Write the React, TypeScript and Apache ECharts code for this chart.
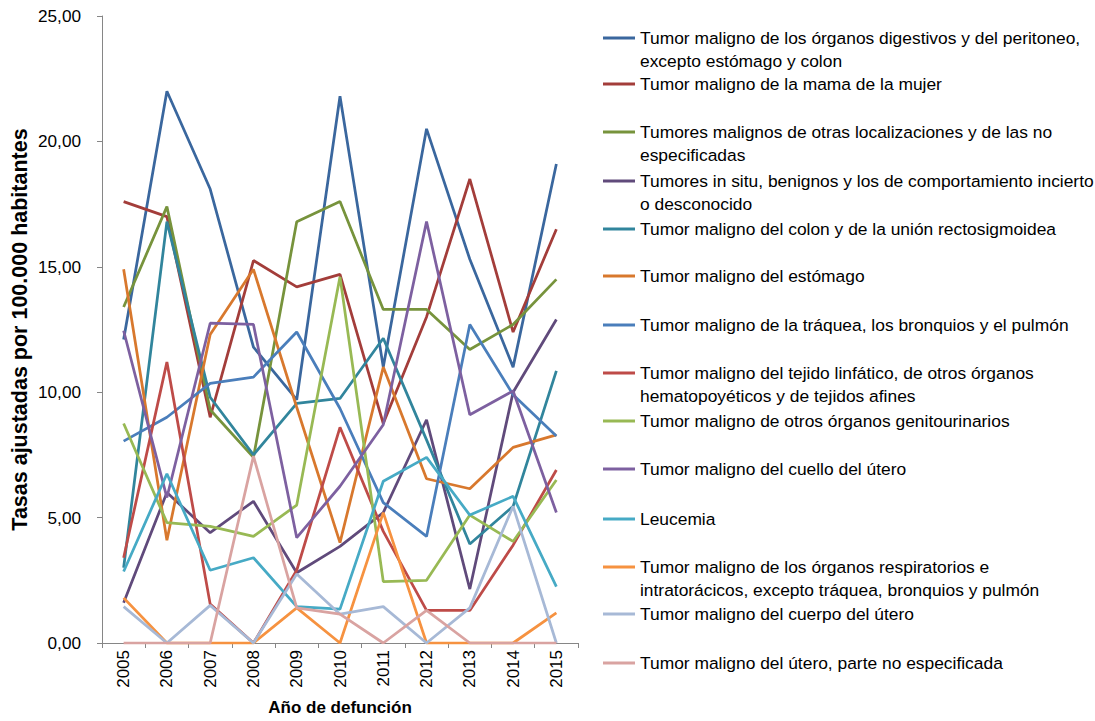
import React, { useEffect, useRef } from "react";
import * as echarts from "echarts";

const years = ["2005", "2006", "2007", "2008", "2009", "2010", "2011", "2012", "2013", "2014", "2015"];

const seriesNames = [
  "Tumor maligno de los órganos digestivos y del peritoneo, excepto estómago y colon",
  "Tumor maligno de la mama de la mujer",
  "Tumores malignos de otras localizaciones y de las no especificadas",
  "Tumores in situ, benignos y los de comportamiento incierto o desconocido",
  "Tumor maligno del colon y de la unión rectosigmoidea",
  "Tumor maligno del estómago",
  "Tumor maligno de la tráquea, los bronquios y el pulmón",
  "Tumor maligno del tejido linfático, de otros órganos hematopoyéticos y de tejidos afines",
  "Tumor maligno de otros órganos genitourinarios",
  "Tumor maligno del cuello del útero",
  "Leucemia",
  "Tumor maligno de los órganos respiratorios e intratorácicos, excepto tráquea, bronquios y pulmón",
  "Tumor maligno del cuerpo del útero",
  "Tumor maligno del útero, parte no especificada",
];

const legendLabels = [
  "Tumor maligno de los órganos digestivos y del peritoneo,\nexcepto estómago y colon",
  "Tumor maligno de la mama de la mujer",
  "Tumores malignos de otras localizaciones y de las no\nespecificadas",
  "Tumores in situ, benignos y los de comportamiento incierto\no desconocido",
  "Tumor maligno del colon y de la unión rectosigmoidea",
  "Tumor maligno del estómago",
  "Tumor maligno de la tráquea, los bronquios y el pulmón",
  "Tumor maligno del tejido linfático, de otros órganos\nhematopoyéticos y de tejidos afines",
  "Tumor maligno de otros órganos genitourinarios",
  "Tumor maligno del cuello del útero",
  "Leucemia",
  "Tumor maligno de los órganos respiratorios e\nintratorácicos, excepto tráquea, bronquios y pulmón",
  "Tumor maligno del cuerpo del útero",
  "Tumor maligno del útero, parte no especificada",
];

const digestivos = [12.1, 22.0, 18.1, 11.8, 9.7, 21.8, 11.0, 20.5, 15.3, 11.0, 19.1];
const mama = [17.6, 17.0, 9.0, 15.25, 14.2, 14.7, 8.75, 13.0, 18.5, 12.4, 16.5];
const otras = [13.4, 17.4, 9.3, 7.4, 16.8, 17.6, 13.3, 13.3, 11.7, 12.7, 14.5];
const inSitu = [1.6, 6.0, 4.4, 5.65, 2.8, 3.85, 5.2, 8.9, 2.15, 10.0, 12.9];
const colon = [3.0, 16.8, 9.8, 7.5, 9.55, 9.75, 12.15, 8.1, 3.95, 5.45, 10.85];
const estomago = [14.9, 4.1, 12.3, 14.9, 9.4, 4.0, 11.0, 6.55, 6.15, 7.8, 8.3];
const traquea = [8.05, 9.0, 10.35, 10.6, 12.4, 9.35, 5.6, 4.25, 12.7, 9.9, 8.25];
const linfatico = [3.4, 11.2, 1.55, 0, 2.9, 8.6, 4.45, 1.3, 1.3, 3.9, 6.9];
const genitourinarios = [8.75, 4.8, 4.65, 4.25, 5.5, 14.6, 2.45, 2.5, 5.1, 4.05, 6.5];
const cuelloUtero = [12.45, 5.8, 12.75, 12.7, 4.2, 6.25, 8.7, 16.8, 9.1, 10.05, 5.2];
const leucemia = [2.85, 6.75, 2.9, 3.4, 1.45, 1.35, 6.45, 7.4, 5.1, 5.85, 2.25];
const respiratorios = [1.8, 0, 0, 0, 1.4, 0, 5.2, 0, 0, 0, 1.2];
const cuerpoUtero = [1.45, 0, 1.5, 0, 2.75, 1.15, 1.45, 0, 1.4, 5.45, 0];
const uteroNoEsp = [0, 0, 0, 7.45, 1.4, 1.15, 0, 1.3, 0, 0, 0];

const seriesValues = [
  digestivos, mama, otras, inSitu, colon, estomago, traquea,
  linfatico, genitourinarios, cuelloUtero, leucemia, respiratorios, cuerpoUtero, uteroNoEsp,
];

const colors = [
  "#3A679E", "#A33D3A", "#77933C", "#604A7B", "#31859C", "#D8782D", "#4A7EBB",
  "#BE4B48", "#98B954", "#7D60A0", "#46AAC5", "#F69240", "#A7B9D6", "#D9A3A1",
];

const legendIconY = [38, 84, 132, 181, 229, 276, 325, 373, 421, 469, 519, 567, 614, 663];

const yTicks = { min: 0, max: 25, interval: 5 };

const FONT = "'Liberation Sans', Arial, sans-serif";
const LEGEND_FS = 17.4;
const LH = 23;

// icon for two-line entries: a bar centred on the first text line, box padded to two lines
const TWO_LINE_ICON = "path://M0,10H32V13H0Z M0,0H32 M0,46H32";

export default function App() {
  const ref = useRef<HTMLDivElement>(null);
  useEffect(() => {
    if (!ref.current) return;
    const chart = echarts.init(ref.current, null, { renderer: "svg" });
    const legends = seriesNames.map((name, i) => {
      const twoLine = legendLabels[i].indexOf("\n") >= 0;
      return {
        data: [name],
        left: 603,
        top: legendIconY[i] - LH / 2,
        orient: "vertical",
        padding: 0,
        itemWidth: 32,
        itemHeight: twoLine ? 2 * LH : 3,
        itemGap: 0,
        icon: twoLine ? TWO_LINE_ICON : "rect",
        selectedMode: false,
        formatter: () => legendLabels[i],
        textStyle: {
          fontFamily: FONT,
          fontSize: LEGEND_FS,
          lineHeight: LH,
          color: "#000",
        },
      };
    });
    chart.setOption({
      animation: false,
      textStyle: { fontFamily: FONT },
      grid: { left: 102, right: 517, top: 16, bottom: 76, containLabel: false },
      legend: legends,
      xAxis: {
        type: "category",
        data: years,
        boundaryGap: true,
        name: "Año de defunción",
        nameLocation: "middle",
        nameGap: 56,
        nameTextStyle: { fontFamily: FONT, fontSize: 17, fontWeight: "bold", color: "#000" },
        axisLine: { lineStyle: { color: "#868686", width: 1 } },
        axisTick: { show: true, length: 5, lineStyle: { color: "#868686" } },
        axisLabel: { rotate: 90, margin: 7, fontFamily: FONT, fontSize: 17, color: "#000" },
        splitLine: { show: false },
      },
      yAxis: {
        type: "value",
        min: yTicks.min,
        max: yTicks.max,
        interval: yTicks.interval,
        name: "Tasas ajustadas por 100.000 habitantes",
        nameLocation: "middle",
        nameRotate: 90,
        nameGap: 71,
        nameTextStyle: { fontFamily: FONT, fontSize: 21.5, fontWeight: "bold", color: "#000" },
        axisLine: { show: true, lineStyle: { color: "#868686", width: 1 } },
        axisTick: { show: true, length: 5, lineStyle: { color: "#868686" } },
        axisLabel: {
          margin: 21,
          fontFamily: FONT,
          fontSize: 17.2,
          color: "#000",
          formatter: (v: number) => v.toFixed(2).replace(".", ","),
        },
        splitLine: { show: false },
      },
      series: seriesNames.map((name, i) => ({
        name,
        type: "line",
        data: seriesValues[i],
        symbol: "none",
        color: colors[i],
        lineStyle: { width: 2.75, color: colors[i] },
      })),
    });
    return () => chart.dispose();
  }, []);
  return (
    <div
      ref={ref}
      style={{ position: "fixed", left: 0, top: 0, width: 1095, height: 721, background: "#fff" }}
    />
  );
}
